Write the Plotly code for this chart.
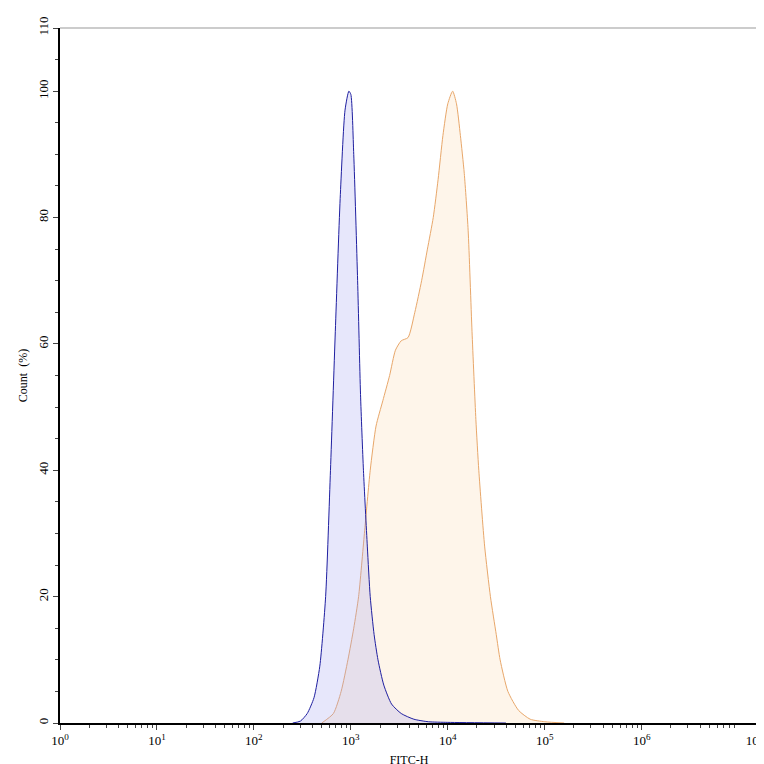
import plotly.graph_objects as go

# log10(FITC-H) positions and Count (%)
blue_logx = [2.40, 2.48, 2.55, 2.62, 2.68, 2.74, 2.79, 2.84, 2.89, 2.94, 2.98, 3.00, 3.03, 3.07, 3.10, 3.13, 3.17, 3.20, 3.24, 3.28, 3.34, 3.42, 3.52, 3.65, 3.80, 4.00, 4.6]
blue_y    = [0.0,  0.3,  1.5,  4,    9,    20,   40,   62,   83,   97,   100,  99.5, 90,   70,   52,   40,   28,   20,   14,   10,   6,    3,    1.5,  0.6,  0.2,  0.1,  0.0]

orange_logx = [2.70, 2.82, 2.90, 2.97, 3.03, 3.08, 3.14, 3.20, 3.26, 3.33, 3.40, 3.46, 3.52, 3.59, 3.66, 3.73, 3.79, 3.85, 3.90, 3.95, 4.00, 4.05, 4.09, 4.13, 4.17, 4.21, 4.25, 4.29, 4.32, 4.38, 4.44, 4.50, 4.54, 4.62, 4.73, 4.85, 5.00, 5.2]
orange_y    = [0.0,  1.5,  5,    10,   15,   20,   30,   40,   47,   51,   55,   59,   60.5, 61,   65,   70,   75,   80,   86,   93,   98,   100,  98,   93,   87,   78,   62,   48,   40,   28,   20,   14,   10,   5,    2,    0.6,  0.2,  0.0]

fig = go.Figure()
fig.add_trace(go.Scatter(x=[10**v for v in orange_logx], y=orange_y, mode="lines",
                         line=dict(color="#e8a76a", width=1, shape="spline", smoothing=0.6),
                         fill="tozeroy", fillcolor="rgba(253,232,208,0.45)"))
fig.add_trace(go.Scatter(x=[10**v for v in blue_logx], y=blue_y, mode="lines",
                         line=dict(color="#1f1fa0", width=1, shape="spline", smoothing=0.6),
                         fill="tozeroy", fillcolor="rgba(160,160,240,0.25)"))

tickvals = [1, 10, 100, 1000, 1e4, 1e5, 1e6, 10**7.2]
ticktext = ["10<sup>0</sup>", "10<sup>1</sup>", "10<sup>2</sup>", "10<sup>3</sup>",
            "10<sup>4</sup>", "10<sup>5</sup>", "10<sup>6</sup>", "10<sup>7.2</sup>"]
minor = [m * 10**d for d in range(0, 7) for m in range(2, 10) if m * 10**d < 10**7.2]

fig.update_layout(
    width=764, height=764, showlegend=False,
    paper_bgcolor="white", plot_bgcolor="white",
    margin=dict(l=52, r=14, t=20, b=49, autoexpand=False),
    font=dict(family="Liberation Serif", size=13, color="black"),
    xaxis=dict(type="log", range=[0, 7.2], tickvals=tickvals, ticktext=ticktext,
               ticks="outside", ticklen=5, showgrid=False, zeroline=False, automargin=False,
               showline=True, linecolor="black", linewidth=1.5, mirror=False,
               minor=dict(tickvals=minor, ticks="outside", ticklen=3),
               title=dict(text="FITC-H", font=dict(size=12), standoff=8)),
    yaxis=dict(range=[0, 110], tickvals=[0, 20, 40, 60, 80, 100, 110],
               ticks="outside", ticklen=5, tickangle=-90, showgrid=False, zeroline=False,
               automargin=False,
               showline=True, linecolor="black", linewidth=1.5,
               minor=dict(dtick=5, ticks="outside", ticklen=3),
               title=dict(text="Count  (%)", font=dict(size=12), standoff=6)),
    shapes=[dict(type="line", xref="paper", yref="paper", x0=0, x1=1, y0=1, y1=1,
                 line=dict(color="#999", width=1)),
            dict(type="line", xref="paper", yref="paper", x0=1, x1=1, y0=0, y1=1,
                 line=dict(color="#999", width=1))],
)
fig.write_html("out.html")
